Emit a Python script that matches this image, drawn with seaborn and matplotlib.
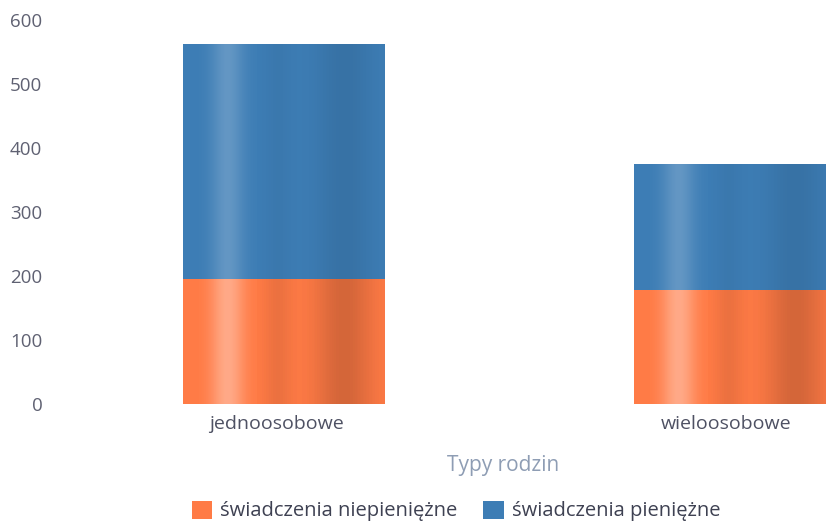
import numpy as np
import pandas as pd
import matplotlib
matplotlib.use("Agg")
import matplotlib.pyplot as plt
from matplotlib.patches import Patch
import matplotlib.transforms as mtransforms
import seaborn as sns

categories = ["jednoosobowe", "wieloosobowe"]
niepieniezne = [195, 178]
pieniezne = [368, 197]
y_ticks = [0, 100, 200, 300, 400, 500, 600]
series_names = ["świadczenia niepieniężne", "świadczenia pieniężne"]
axis_title = "Typy rodzin"

ORANGE = "#ff7b46"
BLUE = "#3d7db5"

sns.set_theme(style="white")
plt.rcParams["font.family"] = ["Open Sans", "DejaVu Sans"]

W, H = 826, 526
fig = plt.figure(figsize=(W / 100, H / 100), dpi=100)
ax = fig.add_axes([59 / W, (H - 404) / H, (W - 59) / W, (404 - 20) / H])

df = pd.DataFrame({"cat": categories,
                   "low": niepieniezne,
                   "total": [a + b for a, b in zip(niepieniezne, pieniezne)]})

sns.barplot(data=df, x="cat", y="total", color=BLUE, saturation=1, width=0.447,
            ax=ax, linewidth=0)
sns.barplot(data=df, x="cat", y="low", color=ORANGE, saturation=1, width=0.447,
            ax=ax, linewidth=0)

# subtle cylindrical shading overlay clipped to each bar
xs = np.linspace(0, 1, 256)
light = 0.20 * np.exp(-((xs - 0.22) / 0.08) ** 2)
dark = 0.09 * np.exp(-((xs - 0.80) / 0.14) ** 2) + 0.04 * np.exp(-((xs - 0.47) / 0.07) ** 2)
for p in list(ax.patches):
    x0, y0 = p.get_x(), p.get_y()
    w, h = p.get_width(), p.get_height()
    if h <= 0:
        continue
    img_l = np.zeros((1, 256, 4)); img_l[..., :3] = 1.0; img_l[0, :, 3] = light
    img_d = np.zeros((1, 256, 4)); img_d[0, :, 3] = dark
    for img in (img_d, img_l):
        im = ax.imshow(img, extent=[x0, x0 + w, y0, y0 + h], aspect="auto",
                       interpolation="bilinear", zorder=p.get_zorder() + 0.1)
        im.set_clip_path(p)
ax.set_xlim(-0.5, 1.204)
ax.set_ylim(0, 600)
ax.set_yticks(y_ticks)

sns.despine(ax=ax, left=True, bottom=True)
ax.tick_params(axis="y", labelsize=13.5, labelcolor="#5f6172", length=0, pad=12)
ax.tick_params(axis="x", labelsize=14, labelcolor="#4e5163", length=0, pad=8)
offset = mtransforms.ScaledTranslation(-8 / 100, 0, fig.dpi_scale_trans)
for lbl in ax.get_xticklabels():
    lbl.set_transform(lbl.get_transform() + offset)
ax.set_ylabel("")
ax.set_xlabel(axis_title, fontsize=15, color="#8e9db4")
ax.xaxis.set_label_coords((503 - 59) / (W - 59), -(466 - 404) / (404 - 20))
ax.xaxis.label.set_verticalalignment("center")
ax.grid(False)

handles = [Patch(facecolor=ORANGE, edgecolor="none"), Patch(facecolor=BLUE, edgecolor="none")]
fig.legend(handles, series_names, loc="center", bbox_to_anchor=(456 / W, (H - 511) / H),
           ncol=2, frameon=False, fontsize=14.5, handlelength=1.0, handleheight=1.0,
           handletextpad=0.4, columnspacing=1.3, labelcolor="#3e4152",
           borderaxespad=0, borderpad=0)

fig.savefig("out.png", dpi=100)
